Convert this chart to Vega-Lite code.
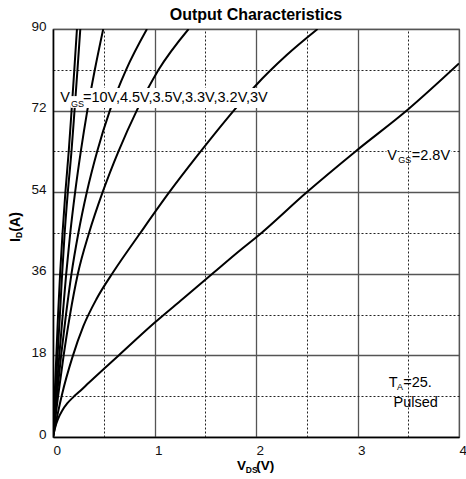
{
  "$schema": "https://vega.github.io/schema/vega-lite/v6.json",
  "width": 406,
  "height": 408,
  "autosize": {"type": "none"},
  "padding": {"left": 53, "top": 29, "right": 7, "bottom": 42},
  "background": "white",
  "title": {"text": "Output Characteristics", "font": "Liberation Sans", "fontSize": 16, "fontWeight": "bold", "color": "black", "anchor": "middle", "offset": -4},
  "config": {"view": {"stroke": "#555", "strokeWidth": 1.2}, "font": "Liberation Sans"},
  "datasets": {
    "curves": [
      {"g": "10V", "v": 0, "i": 0}, {"g": "10V", "v": 0.016, "i": 9}, {"g": "10V", "v": 0.033, "i": 18}, {"g": "10V", "v": 0.05, "i": 27}, {"g": "10V", "v": 0.07, "i": 36}, {"g": "10V", "v": 0.094, "i": 45}, {"g": "10V", "v": 0.122, "i": 54}, {"g": "10V", "v": 0.155, "i": 63}, {"g": "10V", "v": 0.183, "i": 72}, {"g": "10V", "v": 0.21, "i": 81}, {"g": "10V", "v": 0.236, "i": 90},
      {"g": "4.5V", "v": 0, "i": 0}, {"g": "4.5V", "v": 0.022, "i": 9}, {"g": "4.5V", "v": 0.045, "i": 18}, {"g": "4.5V", "v": 0.068, "i": 27}, {"g": "4.5V", "v": 0.09, "i": 36}, {"g": "4.5V", "v": 0.115, "i": 45}, {"g": "4.5V", "v": 0.146, "i": 54}, {"g": "4.5V", "v": 0.182, "i": 63}, {"g": "4.5V", "v": 0.212, "i": 72}, {"g": "4.5V", "v": 0.241, "i": 81}, {"g": "4.5V", "v": 0.269, "i": 90},
      {"g": "3.5V", "v": 0, "i": 0}, {"g": "3.5V", "v": 0.03, "i": 9}, {"g": "3.5V", "v": 0.062, "i": 18}, {"g": "3.5V", "v": 0.096, "i": 27}, {"g": "3.5V", "v": 0.13, "i": 36}, {"g": "3.5V", "v": 0.17, "i": 45}, {"g": "3.5V", "v": 0.218, "i": 54}, {"g": "3.5V", "v": 0.274, "i": 63}, {"g": "3.5V", "v": 0.338, "i": 72}, {"g": "3.5V", "v": 0.412, "i": 81}, {"g": "3.5V", "v": 0.495, "i": 90},
      {"g": "3.3V", "v": 0, "i": 0}, {"g": "3.3V", "v": 0.038, "i": 9}, {"g": "3.3V", "v": 0.08, "i": 18}, {"g": "3.3V", "v": 0.128, "i": 27}, {"g": "3.3V", "v": 0.182, "i": 36}, {"g": "3.3V", "v": 0.25, "i": 45}, {"g": "3.3V", "v": 0.333, "i": 54}, {"g": "3.3V", "v": 0.435, "i": 63}, {"g": "3.3V", "v": 0.56, "i": 72}, {"g": "3.3V", "v": 0.72, "i": 81}, {"g": "3.3V", "v": 0.926, "i": 90},
      {"g": "3.2V", "v": 0, "i": 0}, {"g": "3.2V", "v": 0.05, "i": 9}, {"g": "3.2V", "v": 0.105, "i": 18}, {"g": "3.2V", "v": 0.168, "i": 27}, {"g": "3.2V", "v": 0.245, "i": 36}, {"g": "3.2V", "v": 0.355, "i": 45}, {"g": "3.2V", "v": 0.489, "i": 54}, {"g": "3.2V", "v": 0.645, "i": 63}, {"g": "3.2V", "v": 0.825, "i": 72}, {"g": "3.2V", "v": 1.04, "i": 81}, {"g": "3.2V", "v": 1.336, "i": 90},
      {"g": "3V", "v": 0, "i": 0}, {"g": "3V", "v": 0.045, "i": 5}, {"g": "3V", "v": 0.09, "i": 9.5}, {"g": "3V", "v": 0.19, "i": 17.5}, {"g": "3V", "v": 0.3, "i": 24.5}, {"g": "3V", "v": 0.43, "i": 30.5}, {"g": "3V", "v": 0.597, "i": 36.5}, {"g": "3V", "v": 0.86, "i": 45}, {"g": "3V", "v": 1.146, "i": 54}, {"g": "3V", "v": 1.42, "i": 62}, {"g": "3V", "v": 1.846, "i": 73.7}, {"g": "3V", "v": 2.0, "i": 77.6}, {"g": "3V", "v": 2.3, "i": 84.2}, {"g": "3V", "v": 2.607, "i": 90},
      {"g": "2.8V", "v": 0, "i": 0}, {"g": "2.8V", "v": 0.02, "i": 2}, {"g": "2.8V", "v": 0.05, "i": 4}, {"g": "2.8V", "v": 0.09, "i": 5.8}, {"g": "2.8V", "v": 0.14, "i": 7.4}, {"g": "2.8V", "v": 0.2, "i": 8.8}, {"g": "2.8V", "v": 0.27, "i": 10.2}, {"g": "2.8V", "v": 0.35, "i": 11.9}, {"g": "2.8V", "v": 0.5, "i": 15}, {"g": "2.8V", "v": 0.647, "i": 18}, {"g": "2.8V", "v": 1.0, "i": 25.2}, {"g": "2.8V", "v": 1.28, "i": 30.5}, {"g": "2.8V", "v": 1.57, "i": 36}, {"g": "2.8V", "v": 1.85, "i": 41.3}, {"g": "2.8V", "v": 2.0, "i": 44}, {"g": "2.8V", "v": 2.5, "i": 54}, {"g": "2.8V", "v": 2.98, "i": 63}, {"g": "2.8V", "v": 3.5, "i": 72.3}, {"g": "2.8V", "v": 4.0, "i": 82.4}
    ],
    "boxes": [
      {"x0": 0.062, "x1": 0.175, "y0": 73.2, "y1": 77.0},
      {"x0": 0.175, "x1": 0.299, "y0": 72.6, "y1": 75.2},
      {"x0": 0.299, "x1": 2.22, "y0": 72.6, "y1": 77.0},
      {"x0": 3.285, "x1": 3.39, "y0": 61.1, "y1": 63.75},
      {"x0": 3.53, "x1": 3.925, "y0": 61.1, "y1": 63.75}
    ],
    "bigtext": [
      {"t": "V", "x": 0.072, "y": 74.0},
      {"t": "=10V,4.5V,3.5V,3.3V,3.2V,3V", "x": 0.295, "y": 74.0},
      {"t": "V", "x": 3.294, "y": 61.2},
      {"t": "=2.8V", "x": 3.535, "y": 61.2},
      {"t": "T", "x": 3.307, "y": 10.96},
      {"t": "=25.", "x": 3.45, "y": 10.96},
      {"t": "Pulsed", "x": 3.355, "y": 6.53}
    ],
    "subtext": [
      {"t": "GS", "x": 0.177, "y": 72.9},
      {"t": "GS", "x": 3.402, "y": 60.55},
      {"t": "A", "x": 3.389, "y": 10.37}
    ],
    "xtitle": [
      {"t": "V", "x": 1.813, "y": -7.28},
      {"t": "(V)", "x": 2.003, "y": -7.28}
    ],
    "xtitlesub": [
      {"t": "DS", "x": 1.9, "y": -7.94}
    ],
    "ytitle": [
      {"t": "I", "x": -0.329, "y": 43.0},
      {"t": "(A)", "x": -0.329, "y": 45.3}
    ],
    "ytitlesub": [
      {"t": "D", "x": -0.309, "y": 43.9}
    ]
  },
  "resolve": {"axis": {"x": "independent", "y": "independent"}},
  "layer": [
    {
      "data": {"name": "curves"},
      "mark": {"type": "line", "color": "black", "strokeWidth": 2, "interpolate": "monotone", "clip": true},
      "encoding": {
        "x": {"field": "v", "type": "quantitative", "scale": {"domain": [0, 4], "nice": false, "zero": false},
          "axis": {"values": [0, 1, 2, 3, 4], "grid": true, "gridColor": "#555", "gridWidth": 1.3, "domain": true, "domainColor": "black", "domainWidth": 1.5, "ticks": false, "labelFont": "Liberation Sans", "labelFontSize": 13.5, "labelColor": "#111", "labelPadding": 6.5, "labelAlign": "left", "labelFlush": false, "labelOverlap": false, "title": null}},
        "y": {"field": "i", "type": "quantitative", "scale": {"domain": [0, 90], "nice": false, "zero": false},
          "axis": {"values": [0, 18, 36, 54, 72, 90], "grid": true, "gridColor": "#555", "gridWidth": 1.3, "domain": true, "domainColor": "black", "domainWidth": 1.5, "ticks": false, "labelFont": "Liberation Sans", "labelFontSize": 13.5, "labelColor": "#111", "labelPadding": 7, "labelBaseline": "middle", "labelOffset": -3, "labelFlush": false, "labelOverlap": false, "title": null}},
        "detail": {"field": "g"}
      }
    },
    {
      "data": {"name": "boxes"},
      "mark": {"type": "rect", "fill": "white", "stroke": null},
      "encoding": {
        "x": {"field": "x0", "type": "quantitative", "scale": {"domain": [0, 4], "nice": false, "zero": false},
          "axis": {"values": [0.5, 1.5, 2.5, 3.5], "grid": true, "gridDash": [2, 2], "gridColor": "#222", "gridWidth": 1, "labels": false, "ticks": false, "domain": false, "title": null}},
        "x2": {"field": "x1"},
        "y": {"field": "y0", "type": "quantitative", "scale": {"domain": [0, 90], "nice": false, "zero": false},
          "axis": {"values": [9, 27, 45, 63, 81], "grid": true, "gridDash": [2, 2], "gridColor": "#222", "gridWidth": 1, "labels": false, "ticks": false, "domain": false, "title": null}},
        "y2": {"field": "y1"}
      }
    },
    {
      "data": {"name": "bigtext"},
      "mark": {"type": "text", "font": "Liberation Sans", "fontSize": 14.5, "color": "black", "align": "left", "baseline": "alphabetic"},
      "encoding": {
        "x": {"field": "x", "type": "quantitative", "scale": {"domain": [0, 4], "nice": false, "zero": false}, "axis": null},
        "y": {"field": "y", "type": "quantitative", "scale": {"domain": [0, 90], "nice": false, "zero": false}, "axis": null},
        "text": {"field": "t"}
      }
    },
    {
      "data": {"name": "subtext"},
      "mark": {"type": "text", "font": "Liberation Sans", "fontSize": 9, "color": "black", "align": "left", "baseline": "alphabetic"},
      "encoding": {
        "x": {"field": "x", "type": "quantitative", "scale": {"domain": [0, 4], "nice": false, "zero": false}, "axis": null},
        "y": {"field": "y", "type": "quantitative", "scale": {"domain": [0, 90], "nice": false, "zero": false}, "axis": null},
        "text": {"field": "t"}
      }
    },
    {
      "data": {"name": "xtitle"},
      "mark": {"type": "text", "font": "Liberation Sans", "fontSize": 13.5, "fontWeight": "bold", "color": "black", "align": "left", "baseline": "alphabetic"},
      "encoding": {
        "x": {"field": "x", "type": "quantitative", "scale": {"domain": [0, 4], "nice": false, "zero": false}, "axis": null},
        "y": {"field": "y", "type": "quantitative", "scale": {"domain": [0, 90], "nice": false, "zero": false}, "axis": null},
        "text": {"field": "t"}
      }
    },
    {
      "data": {"name": "xtitlesub"},
      "mark": {"type": "text", "font": "Liberation Sans", "fontSize": 8.5, "fontWeight": "bold", "color": "black", "align": "left", "baseline": "alphabetic"},
      "encoding": {
        "x": {"field": "x", "type": "quantitative", "scale": {"domain": [0, 4], "nice": false, "zero": false}, "axis": null},
        "y": {"field": "y", "type": "quantitative", "scale": {"domain": [0, 90], "nice": false, "zero": false}, "axis": null},
        "text": {"field": "t"}
      }
    },
    {
      "data": {"name": "ytitle"},
      "mark": {"type": "text", "font": "Liberation Sans", "fontSize": 14, "fontWeight": "bold", "color": "black", "align": "left", "baseline": "alphabetic", "angle": 270},
      "encoding": {
        "x": {"field": "x", "type": "quantitative", "scale": {"domain": [0, 4], "nice": false, "zero": false}, "axis": null},
        "y": {"field": "y", "type": "quantitative", "scale": {"domain": [0, 90], "nice": false, "zero": false}, "axis": null},
        "text": {"field": "t"}
      }
    },
    {
      "data": {"name": "ytitlesub"},
      "mark": {"type": "text", "font": "Liberation Sans", "fontSize": 8.5, "fontWeight": "bold", "color": "black", "align": "left", "baseline": "alphabetic", "angle": 270},
      "encoding": {
        "x": {"field": "x", "type": "quantitative", "scale": {"domain": [0, 4], "nice": false, "zero": false}, "axis": null},
        "y": {"field": "y", "type": "quantitative", "scale": {"domain": [0, 90], "nice": false, "zero": false}, "axis": null},
        "text": {"field": "t"}
      }
    }
  ]
}
